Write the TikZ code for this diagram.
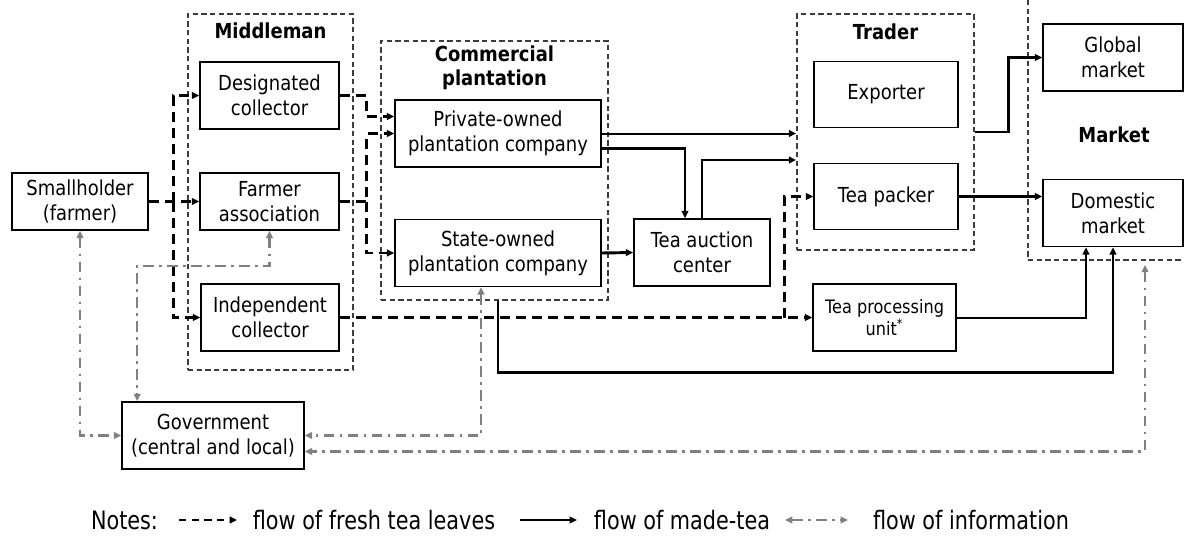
\documentclass[tikz,border=0pt]{standalone}
\usepackage{fontspec}
\setmainfont{DejaVu Sans}[FakeStretch=0.87]
\newfontfamily\legendfont{DejaVu Sans}[FakeStretch=0.82]
\usetikzlibrary{arrows.meta,calc}
\definecolor{infogray}{RGB}{128,128,128}
\definecolor{groupgray}{RGB}{60,60,60}

\begin{document}
\begin{tikzpicture}[x=0.75pt,y=-0.75pt,
  every node/.style={font=\fontsize{15.5}{18.75}\selectfont},
  actor/.style={draw,line width=1.2pt,align=center,inner sep=0pt,minimum width=104.25pt,minimum height=50.25pt},
  group/.style={draw=groupgray,line width=1.35pt,dash pattern=on 4pt off 2.5pt,inner sep=0pt},
  title/.style={font=\bfseries\fontsize{15.5}{18}\selectfont,align=center},
  tip/.style={-{Triangle[length=5.5pt,width=5pt]}},
  fresh/.style={tip,line width=2pt,dash pattern=on 7.5pt off 4.5pt},
  made/.style={tip,line width=2.2pt},
  madethin/.style={tip,line width=1.5pt},
  info/.style={{Triangle[length=5.5pt,width=5pt]}-{Triangle[length=5.5pt,width=5pt]},
    draw=infogray,color=infogray,line width=1.9pt,dash pattern=on 8pt off 4pt on 2pt off 4pt}]
\useasboundingbox (0,0) rectangle (1184,536);
\clip (0,0) rectangle (1184,536);

% groups
\node[group,minimum width=123.75pt,minimum height=267pt] (mm) at (270.5,192) {};
\node[group,minimum width=170.25pt,minimum height=194.25pt] (cp) at (494.5,170.5) {};
\node[group,minimum width=132.75pt,minimum height=177pt] (tr) at (885.5,132) {};
\node[group,minimum width=129pt,minimum height=202.5pt] (mk) at (1114,125) {};

\node[title] (mmt) at ($(mm.north)+(0,18)$) {Middleman};
\node[title] (cpt) at ($(cp.north)+(0,28)$) {Commercial\\plantation};
\node[title] (trt) at ($(tr.north)+(0,19)$) {Trader};
\node[title] (mkt) at (1114,135) {Market};

% actors
\node[actor,minimum width=102pt,minimum height=42.75pt] (sh) at (80,201.5) {Smallholder\\(farmer)};
\node[actor] (dc) at (269.5,95.5) {Designated\\collector};
\node[actor,minimum height=42.75pt] (fa) at (269.5,201.5) {Farmer\\association};
\node[actor,minimum width=103.5pt] (ic) at (270,317.5) {Independent\\collector};
\node[actor,minimum width=154.5pt] (pp) at (498,133.5) {Private-owned\\plantation company};
\node[actor,minimum width=154.5pt] (sp) at (498,253) {State-owned\\plantation company};
\node[actor,minimum width=102pt] (tac) at (702,252.5) {Tea auction\\center};
\node[actor,minimum width=108pt,minimum height=49.5pt] (ex) at (886,94.5) {Exporter};
\node[actor,minimum width=108pt,minimum height=49.5pt] (tp) at (886,196.5) {Tea packer};
\node[actor,minimum width=105pt] (gm) at (1113,57.5) {Global\\market};
\node[actor,minimum width=105pt] (dm) at (1113,213) {Domestic\\market};
\node[actor,minimum width=107.25pt,font=\fontsize{13.9}{16.5}\selectfont] (tpu) at (884.5,317.5) {Tea processing\\unit\textsuperscript{*}};
\node[actor,minimum width=136.5pt] (gov) at (213,435.5) {Government\\(central and local)};

% fresh tea leaves
\coordinate (split1) at ($(fa.west)+(-26,0)$);
\coordinate (mj) at ($(dc.east)+(27,0)$);
\coordinate (split2) at ($(tpu.west)+(-28,0)$);
\draw[fresh] (sh.east) -- (fa.west);
\draw[fresh] (split1) |- (dc.west);
\draw[fresh] (split1) |- (ic.west);
\draw[fresh] (dc.east) -- (mj) |- ($(pp.west)+(0,-17)$);
\draw[fresh] (fa.east) -- (fa.east -| mj) |- (pp.west);
\draw[fresh] (fa.east -| mj) |- (sp.west);
\draw[fresh] (ic.east) -- (tpu.west);
\draw[fresh] (split2) |- (tp.west);

% made-tea
\draw[madethin] (pp.east) -- (pp.east -| tr.west);
\draw[made] ($(pp.east)+(0,15)$) -| ($(tac.north)+(-17,0)$);
\draw[made] (tac.north) |- ($(tr.west)+(0,28)$);
\draw[made] (sp.east) -- (tac.west);
\draw[made] (tr.east) -- ++(34,0) |- (gm.west);
\draw[made] (tp.east) -- (tp.east -| dm.west);
\draw[madethin] (tpu.east) -| ($(dm.south)+(-27,0)$);
\draw[made] (sp.south |- cp.south) -- ++(0,72) -| (dm.south);

% information
\draw[info] (sh.south) |- (gov.west);
\draw[info] (fa.south) -- ++(0,35) -| ($(gov.north west)+(16,0)$);
\draw[info] ($(sp.south)+(-17,0)$) |- (gov.east);
\draw[info] ($(mk.south)+(31,4)$) |- ($(gov.east)+(0,16)$);

% notes
\begin{scope}[every node/.style={font=\legendfont\fontsize{19}{22}\selectfont}]
\node (notes) at (124.5,520) {Notes:};
\node (lfresh) at (374,520) {flow of fresh tea leaves};
\node (lmade) at (682,520) {flow of made-tea};
\node (linfo) at (971,520) {flow of information};
\end{scope}
\coordinate (f1) at (179,520);
\coordinate (f2) at (237,520);
\coordinate (m1) at (520,520);
\coordinate (m2) at (577,520);
\coordinate (i1) at (785,520);
\coordinate (i2) at (848,520);
\draw[fresh,line width=1.4pt,dash pattern=on 5.5pt off 4pt] (f1) -- (f2);
\draw[madethin] (m1) -- (m2);
\draw[info,line width=1.4pt] (i1) -- (i2);
\end{tikzpicture}
\end{document}
